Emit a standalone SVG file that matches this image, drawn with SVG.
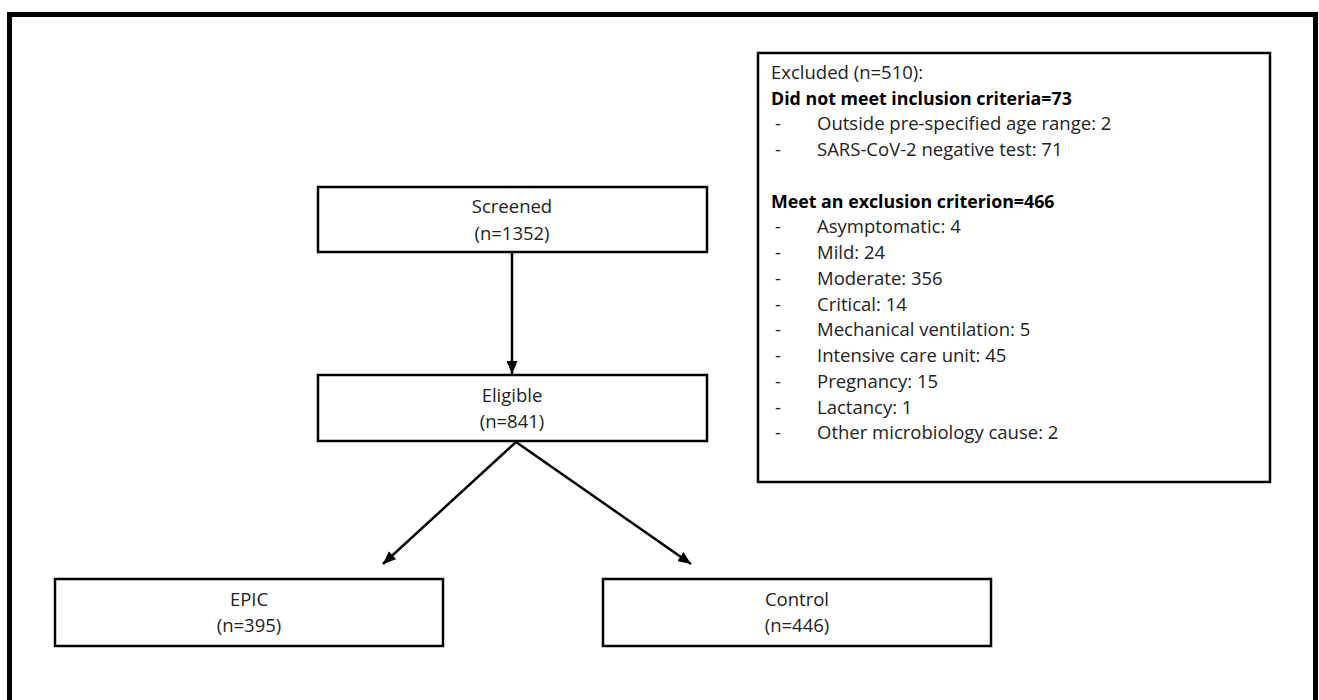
<svg xmlns="http://www.w3.org/2000/svg" width="1319" height="700" viewBox="0 0 1319 700">
<style>
.frame{fill:none;stroke:#000;stroke-width:5}
.box{fill:#fff;stroke:#000;stroke-width:2.5}
.t{font-family:"Open Sans","Liberation Sans",Arial,sans-serif;font-size:18.5px;fill:#222}
.c{text-anchor:middle}
.b{font-weight:bold;fill:#000;font-size:17.8px}
.conn{stroke:#000;stroke-width:2.5;fill:none}
</style>
<defs>
<marker id="arr" markerWidth="13" markerHeight="11" viewBox="0 0 13 11" refX="13" refY="5.5" orient="auto" markerUnits="userSpaceOnUse">
<path d="M0,0 L13,5.5 L0,11 z" fill="#000"/>
</marker>
</defs>
<rect width="1319" height="700" fill="#fff"/>
<rect class="frame" x="9.5" y="14.5" width="1306" height="700"/>
<g id="connectors">
<line class="conn" x1="512" y1="252" x2="512" y2="374" marker-end="url(#arr)"/>
<line class="conn" x1="516" y1="442" x2="383" y2="564" marker-end="url(#arr)"/>
<line class="conn" x1="516" y1="442" x2="691" y2="564" marker-end="url(#arr)"/>
</g>
<g id="screened">
<rect class="box" x="318" y="187" width="389" height="65"/>
<text class="t c" x="512" y="213">Screened</text>
<text class="t c" x="512" y="240">(n=1352)</text>
</g>
<g id="eligible">
<rect class="box" x="318" y="375" width="389" height="66"/>
<text class="t c" x="512" y="402">Eligible</text>
<text class="t c" x="512" y="428">(n=841)</text>
</g>
<g id="epic">
<rect class="box" x="55" y="579" width="388" height="67"/>
<text class="t c" x="249" y="606">EPIC</text>
<text class="t c" x="249" y="632">(n=395)</text>
</g>
<g id="control">
<rect class="box" x="603" y="579" width="388" height="67"/>
<text class="t c" x="797" y="606">Control</text>
<text class="t c" x="797" y="632">(n=446)</text>
</g>
<g id="excluded">
<rect class="box" x="758" y="53" width="512" height="429"/>
<text class="t" x="771" y="79">Excluded (n=510):</text>
<text class="t b" x="771" y="105">Did not meet inclusion criteria=73</text>
<text class="t" x="775" y="130">-</text><text class="t" x="817" y="130">Outside pre-specified age range: 2</text>
<text class="t" x="775" y="156">-</text><text class="t" x="817" y="156">SARS-CoV-2 negative test: 71</text>
<text class="t b" x="771" y="208">Meet an exclusion criterion=466</text>
<text class="t" x="775" y="233">-</text><text class="t" x="817" y="233">Asymptomatic: 4</text>
<text class="t" x="775" y="259">-</text><text class="t" x="817" y="259">Mild: 24</text>
<text class="t" x="775" y="285">-</text><text class="t" x="817" y="285">Moderate: 356</text>
<text class="t" x="775" y="311">-</text><text class="t" x="817" y="311">Critical: 14</text>
<text class="t" x="775" y="336">-</text><text class="t" x="817" y="336">Mechanical ventilation: 5</text>
<text class="t" x="775" y="362">-</text><text class="t" x="817" y="362">Intensive care unit: 45</text>
<text class="t" x="775" y="388">-</text><text class="t" x="817" y="388">Pregnancy: 15</text>
<text class="t" x="775" y="414">-</text><text class="t" x="817" y="414">Lactancy: 1</text>
<text class="t" x="775" y="439">-</text><text class="t" x="817" y="439">Other microbiology cause: 2</text>
</g>
</svg>
